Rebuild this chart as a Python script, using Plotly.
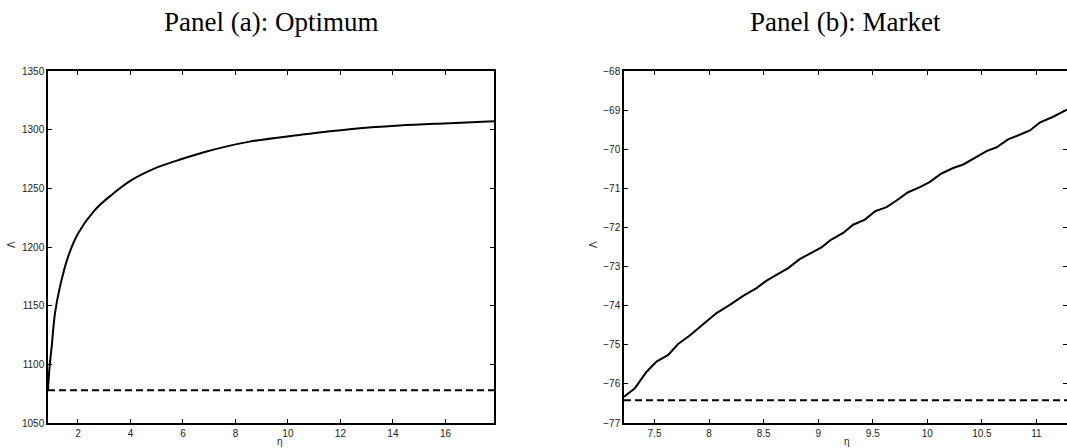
import plotly.graph_objects as go

# Panel (a): Optimum
eta_opt = [0.86, 0.92, 1.0, 1.125, 1.315, 1.63, 2.01, 2.65, 3.28, 4.04, 4.93, 5.82,
           6.83, 8.54, 10.44, 12.35, 14.25, 16.15, 17.85]
lambda_opt = [1078, 1098, 1115, 1143.5, 1166, 1192, 1211.7, 1231.6, 1244.4, 1257, 1267, 1274,
              1281, 1289.8, 1295.5, 1300.4, 1303.5, 1305.5, 1307.2]
baseline_opt = 1078

# Panel (b): Market
eta_mkt = [7.22, 7.32, 7.427, 7.518, 7.625, 7.716, 7.82, 7.945, 8.068, 8.19, 8.312, 8.435,
           8.527, 8.633, 8.725, 8.83, 8.94, 9.03, 9.12, 9.229, 9.32, 9.428, 9.519, 9.626,
           9.718, 9.824, 9.932, 10.02, 10.13, 10.237, 10.33, 10.436, 10.543, 10.635, 10.74,
           10.83, 10.94, 11.03, 11.153, 11.28]
lambda_mkt = [-76.33, -76.11, -75.69, -75.43, -75.26, -74.98, -74.77, -74.47, -74.19, -73.98,
              -73.75, -73.55, -73.36, -73.19, -73.04, -72.81, -72.64, -72.51, -72.31, -72.14,
              -71.93, -71.80, -71.59, -71.48, -71.31, -71.10, -70.97, -70.84, -70.62, -70.48,
              -70.39, -70.22, -70.05, -69.95, -69.75, -69.65, -69.52, -69.32, -69.17, -68.99]
baseline_mkt = -76.42

xrange_opt = [0.86, 17.85]
xrange_mkt = [7.22, 11.28]
xticks_opt = [2, 4, 6, 8, 10, 12, 14, 16]
yticks_opt = [1050, 1100, 1150, 1200, 1250, 1300, 1350]
xticks_mkt = [7.5, 8, 8.5, 9, 9.5, 10, 10.5, 11]
yticks_mkt = [-77, -76, -75, -74, -73, -72, -71, -70, -69, -68]

W, H = 1067, 448
fig = go.Figure()

fig.add_trace(go.Scatter(x=eta_opt, y=lambda_opt, mode="lines", line=dict(color="black", width=2, shape="spline"),
                         xaxis="x", yaxis="y", showlegend=False))
fig.add_trace(go.Scatter(x=xrange_opt, y=[baseline_opt] * 2, mode="lines",
                         line=dict(color="black", width=2, dash="7px,4px"),
                         xaxis="x", yaxis="y", showlegend=False))
fig.add_trace(go.Scatter(x=eta_mkt, y=lambda_mkt, mode="lines", line=dict(color="black", width=2),
                         xaxis="x2", yaxis="y2", showlegend=False))
fig.add_trace(go.Scatter(x=xrange_mkt, y=[baseline_mkt] * 2, mode="lines",
                         line=dict(color="black", width=2, dash="7px,4px"),
                         xaxis="x2", yaxis="y2", showlegend=False))

tickfont = dict(family="Liberation Sans, Arial, sans-serif", size=10, color="#222")
ax = dict(showgrid=False, zeroline=False, showline=True, linecolor="black", linewidth=1.5,
          mirror="ticks", ticks="inside", ticklen=4, tickwidth=1, tickcolor="black",
          tickfont=tickfont, automargin=False)

ydom = [(H - 423) / H, (H - 71) / H]
fig.update_layout(
    width=W, height=H,
    margin=dict(l=0, r=0, t=0, b=0),
    paper_bgcolor="white", plot_bgcolor="white",
    xaxis=dict(ax, domain=[48 / W, 494 / W], range=xrange_opt, tickvals=xticks_opt, anchor="y"),
    yaxis=dict(ax, domain=ydom, range=[1050, 1350], tickvals=yticks_opt, anchor="x"),
    xaxis2=dict(ax, domain=[624 / W, 1.0], range=xrange_mkt, tickvals=xticks_mkt, anchor="y2"),
    yaxis2=dict(ax, domain=ydom, range=[-77, -68], tickvals=yticks_mkt, anchor="x2"),
)

titlefont = dict(family="Liberation Serif, DejaVu Serif, serif", size=27, color="black")
labfont = dict(family="Liberation Sans, Arial, sans-serif", size=10, color="#222")
annots = [
    dict(text="Panel (a): Optimum", x=271 / W, y=(H - 22) / H, font=titlefont),
    dict(text="Panel (b): Market", x=845 / W, y=(H - 22) / H, font=titlefont),
    dict(text="η", x=280 / W, y=(H - 441) / H, font=labfont),
    dict(text="η", x=847 / W, y=(H - 441) / H, font=labfont),
    dict(text="Λ", x=11 / W, y=(H - 245) / H, font=labfont, textangle=-90),
    dict(text="Λ", x=593 / W, y=(H - 245) / H, font=labfont, textangle=-90),
]
for a in annots:
    fig.add_annotation(xref="paper", yref="paper", showarrow=False, xanchor="center", yanchor="middle", **a)

fig.write_html("out.html", config={"displayModeBar": False},
               post_script="document.body.style.margin='0';document.body.style.overflow='hidden';")
